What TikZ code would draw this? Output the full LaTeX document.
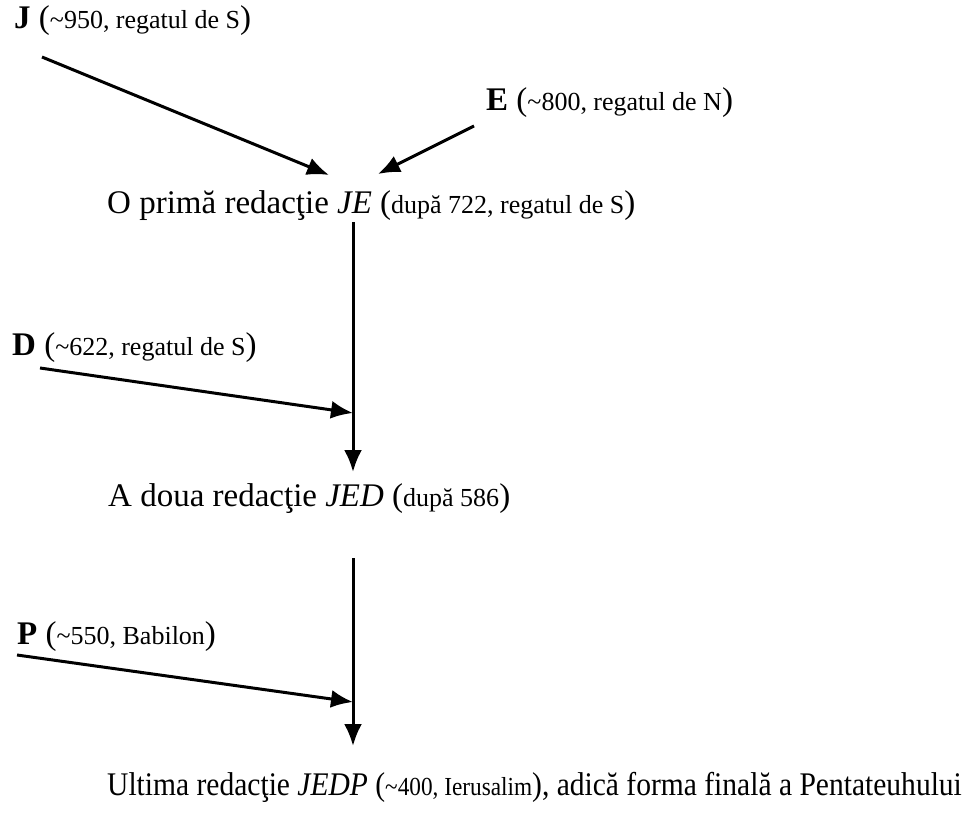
\documentclass[tikz,border=0pt]{standalone}
\usepackage{fontspec}
\setmainfont{Liberation Serif}
\usepackage{tikz}
\usetikzlibrary{arrows.meta}
\newcommand{\mic}[1]{{\fontsize{26}{29}\selectfont #1}}
\tikzset{
    sursa/.style={anchor=base west, inner sep=0pt, font=\fontsize{33}{38}\selectfont},
    redactie/.style={anchor=base west, inner sep=0pt, font=\fontsize{33}{38}\selectfont},
    flux/.style={draw=black, line width=3pt, -{Latex[length=22pt,width=18pt]}},
}
\begin{document}
\begin{tikzpicture}[x=1pt, y=-1pt]
    \useasboundingbox (0,0) rectangle (971,822);
	\node[sursa] (j) at (14,28) {\textbf{J} (\mic{\textasciitilde950, regatul de S})};
	\node[sursa] (e) at (486,110) {\textbf{E} (\mic{\textasciitilde800, regatul de N})};
	\node[redactie] (je) at (107,213) {O primă redacţie \textit{JE} (\mic{după 722, regatul de S})};
	\node[sursa] (d) at (12,355) {\textbf{D} (\mic{\textasciitilde622, regatul de S})};
	\node[redactie] (jed) at (108,506) {A doua redacţie \textit{JED} (\mic{după 586})};
	\node[sursa] (p) at (17,644) {\textbf{P} (\mic{\textasciitilde550, Babilon})};
	\node[redactie] (jedp) at (107,795) {\scalebox{0.895}[1]{Ultima redacţie \textit{JEDP} (\mic{\textasciitilde400, Ierusalim}), adică forma finală a Pentateuhului}};
    % capetele sagetilor
	\coordinate (j0) at (42,57);
	\coordinate (j1) at (329,175);
	\coordinate (e0) at (474,126);
	\coordinate (e1) at (378,174);
	\coordinate (je0) at (353,222);
	\coordinate (je1) at (353,472);
	\coordinate (d0) at (40,368);
	\coordinate (d1) at (353,413);
	\coordinate (jed0) at (353,558);
	\coordinate (jed1) at (353,746);
	\coordinate (p0) at (17,655);
	\coordinate (p1) at (353,702);
	\draw[flux] (j0)--(j1);
	\draw[flux] (e0)--(e1);
	\draw[flux] (je0)--(je1);
	\draw[flux] (d0)--(d1);
	\draw[flux] (jed0)--(jed1);
	\draw[flux] (p0)--(p1);
\end{tikzpicture}
\end{document}
